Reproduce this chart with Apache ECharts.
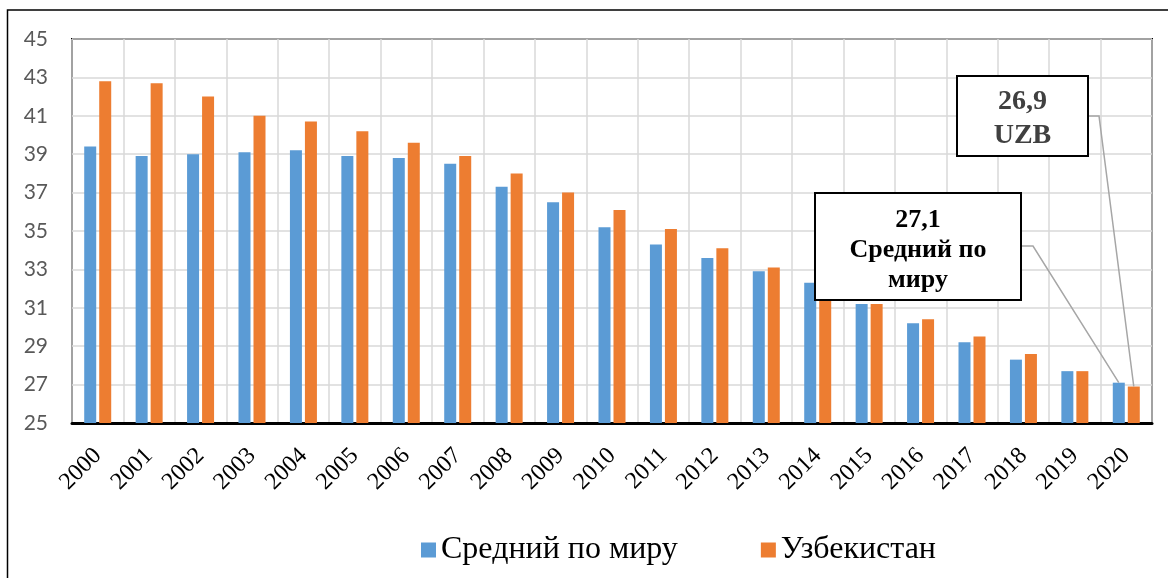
<!DOCTYPE html>
<html>
<head>
<meta charset="utf-8">
<script src="https://cdn.jsdelivr.net/npm/echarts@6/dist/echarts.min.js"></script>
<style>
    html, body { margin: 0; padding: 0; background: #fff; }
    #chart { width: 1168px; height: 578px; }
    .preload { position: absolute; left: -9999px; top: 0; }
</style>
</head>
<body>
<div id="chart"></div>
<span class="preload" style="font: 24px 'Liberation Serif'">2000 Средний</span>
<span class="preload" style="font: bold 24px 'Liberation Serif'">27,1 Средний</span>
<span class="preload" style="font: 21px Lato">45</span>
<script>
// годы
var years = ['2000', '2001', '2002', '2003', '2004', '2005', '2006', '2007', '2008', '2009', '2010',
    '2011', '2012', '2013', '2014', '2015', '2016', '2017', '2018', '2019', '2020'];
// средний по миру
var world = [39.4, 38.9, 39.0, 39.1, 39.2, 38.9, 38.8, 38.5, 37.3, 36.5, 35.2,
    34.3, 33.6, 32.9, 32.3, 31.2, 30.2, 29.2, 28.3, 27.7, 27.1];
// Узбекистан
var uzb = [42.8, 42.7, 42.0, 41.0, 40.7, 40.2, 39.6, 38.9, 38.0, 37.0, 36.1,
    35.1, 34.1, 33.1, 32.1, 31.2, 30.4, 29.5, 28.6, 27.7, 26.9];
var seriesNames = ['Средний по миру', 'Узбекистан'];
var colors = ['#5b9bd5', '#ed7d31'];

var chart = null;

function draw() {
    if (chart) chart.dispose();
    chart = echarts.init(document.getElementById('chart'));

    chart.setOption({
        animation: false,
        color: colors,
        grid: {
            left: 72, top: 39, right: 16, bottom: 155,
            show: true,
            borderColor: '#000',
            borderWidth: 2
        },
        legend: {
            data: seriesNames,
            left: 421,
            top: 534,
            padding: 0,
            icon: 'rect',
            itemWidth: 15,
            itemHeight: 15,
            itemGap: 83,
            textStyle: { fontFamily: 'Liberation Serif', fontSize: 32, color: '#000' }
        },
        xAxis: {
            type: 'category',
            data: years,
            axisLine: { show: true, lineStyle: { color: '#000', width: 3 } },
            axisTick: { show: false },
            splitLine: { show: true, lineStyle: { color: '#d9d9d9', width: 1.5 } },
            axisLabel: {
                interval: 0,
                rotate: 45,
                margin: 29,
                fontFamily: 'Liberation Serif',
                fontSize: 24,
                color: '#000'
            }
        },
        yAxis: {
            type: 'value',
            min: 25,
            max: 45,
            interval: 1,
            axisLine: { show: false },
            axisTick: { show: false },
            axisLabel: {
                margin: 24,
                fontFamily: 'Lato',
                fontSize: 21,
                color: '#595959',
                formatter: function (v) {
                    return (v % 2 === 1) ? v : '';
                }
            },
            splitLine: { lineStyle: { color: ['#d9d9d9', 'rgba(0,0,0,0)'], width: 1.5 } }
        },
        series: [
            { name: seriesNames[0], type: 'bar', data: world, barWidth: 12, barGap: '25%' },
            { name: seriesNames[1], type: 'bar', data: uzb, barWidth: 12, barGap: '25%' }
        ]
    });

    // выноски с подписями
    var last = years.length - 1;
    var pW = chart.convertToPixel({ gridIndex: 0 }, [last, world[last]]);
    var pU = chart.convertToPixel({ gridIndex: 0 }, [last, uzb[last]]);

    chart.setOption({
        graphic: [
            // внешняя рамка
            { type: 'rect', shape: { x: 7.5, y: 10, width: 1200, height: 600 }, style: { fill: 'none', stroke: '#000', lineWidth: 1.5 }, silent: true },
            // выноска UZB
            { type: 'polyline', shape: { points: [[1088, 116], [1099, 116], [pU[0] + 7.5, pU[1]]] }, style: { fill: 'none', stroke: '#a6a6a6', lineWidth: 1.5 }, z: 10 },
            { type: 'rect', shape: { x: 957, y: 76, width: 131, height: 80 }, style: { fill: '#fff', stroke: '#000', lineWidth: 2 }, z: 11 },
            { type: 'text', x: 1022.5, y: 119, z: 12, style: { text: '26,9\nUZB', align: 'center', verticalAlign: 'middle', fontFamily: 'Liberation Serif', fontWeight: 'bold', fontSize: 28, lineHeight: 34, fill: '#404040' } },
            // выноска средний по миру
            { type: 'polyline', shape: { points: [[1021, 246], [1033, 246], [pW[0] - 7.5, pW[1]]] }, style: { fill: 'none', stroke: '#a6a6a6', lineWidth: 1.5 }, z: 10 },
            { type: 'rect', shape: { x: 815, y: 193, width: 206, height: 107 }, style: { fill: '#fff', stroke: '#000', lineWidth: 2 }, z: 11 },
            { type: 'text', x: 918, y: 250, z: 12, style: { text: '27,1\nСредний по\nмиру', align: 'center', verticalAlign: 'middle', fontFamily: 'Liberation Serif', fontWeight: 'bold', fontSize: 26, lineHeight: 30, fill: '#000' } }
        ]
    });
}

draw();

// перерисовать, когда шрифты точно загрузятся
if (document.fonts && document.fonts.load) {
    Promise.all([
        document.fonts.load('24px "Liberation Serif"', '2000 Средний'),
        document.fonts.load('bold 24px "Liberation Serif"', '27,1 Средний'),
        document.fonts.load('21px Lato', '45')
    ]).then(draw, draw);
}
</script>
</body>
</html>
